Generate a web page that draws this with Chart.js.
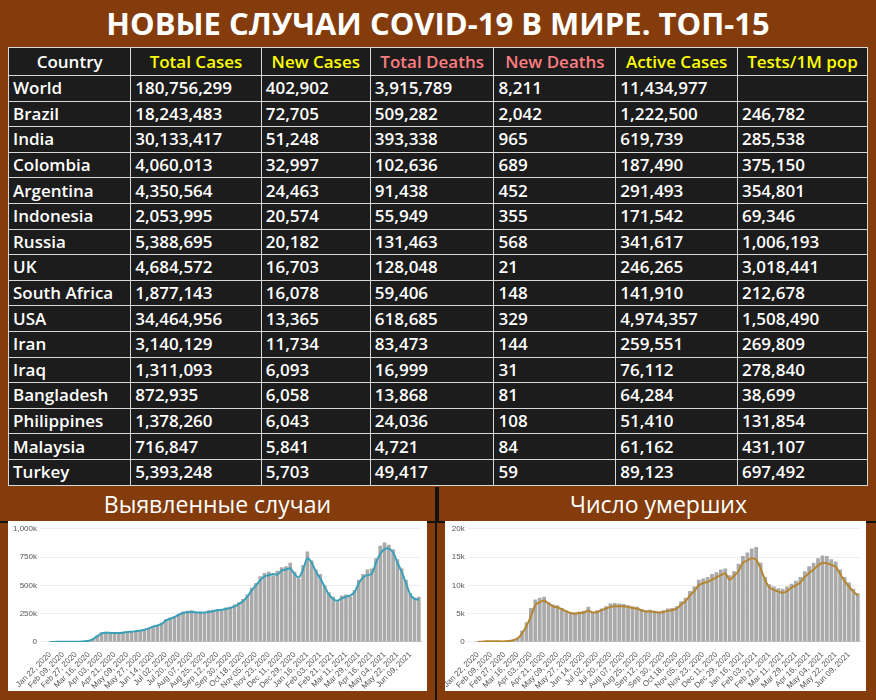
<!DOCTYPE html>
<html><head><meta charset="utf-8">
<script src="https://cdn.jsdelivr.net/npm/chart.js@4"></script>
<style>
body{margin:0;width:876px;height:700px;background:#843c0c;font-family:"Open Sans",sans-serif;overflow:hidden;position:relative}
#title{position:absolute;left:0;top:0;width:876px;height:46px;text-align:center;color:#fff;font-weight:bold;font-size:31px;line-height:46px}
table{position:absolute;left:8px;top:47px;width:860px;border-collapse:collapse;background:#1c1c1c}
td{border:1px solid #d8d8d8;color:#fff;font-size:17px;font-weight:600;height:24.6px;padding:0 4px;line-height:22px;white-space:nowrap}
tr.h td{text-align:center;height:27px}
.sub{position:absolute;top:487px;height:34px;color:#fff;font-size:23px;text-align:center;line-height:34px;border-bottom:2px solid #111}
.box{position:absolute;top:521px;height:170px;background:#fff}
</style></head><body>
<div id="title">НОВЫЕ СЛУЧАИ COVID-19 В МИРЕ. ТОП-15</div>
<table id="tbl"></table>
<div class="sub" style="left:0;width:435px">Выявленные случаи</div>
<div class="sub" style="left:437px;width:439px;border-left:2px solid #111">Число умерших</div>
<div style="position:absolute;left:435px;top:487px;width:2px;height:213px;background:#111"></div>
<div class="box" style="left:8px;width:419px"><canvas id="c1"></canvas></div>
<div class="box" style="left:445px;width:421px"><canvas id="c2"></canvas></div>
<script>
const headers=["Country","Total Cases","New Cases","Total Deaths","New Deaths","Active Cases","Tests/1M pop"];
const headerColors=["#ffffff","#ffff00","#ffff00","#ff7c80","#ff7c80","#ffff00","#ffff00"];
const countries=["World","Brazil","India","Colombia","Argentina","Indonesia","Russia","UK","South Africa","USA","Iran","Iraq","Bangladesh","Philippines","Malaysia","Turkey"];
const totalCases=["180,756,299","18,243,483","30,133,417","4,060,013","4,350,564","2,053,995","5,388,695","4,684,572","1,877,143","34,464,956","3,140,129","1,311,093","872,935","1,378,260","716,847","5,393,248"];
const newCases=["402,902","72,705","51,248","32,997","24,463","20,574","20,182","16,703","16,078","13,365","11,734","6,093","6,058","6,043","5,841","5,703"];
const totalDeaths=["3,915,789","509,282","393,338","102,636","91,438","55,949","131,463","128,048","59,406","618,685","83,473","16,999","13,868","24,036","4,721","49,417"];
const newDeaths=["8,211","2,042","965","689","452","355","568","21","148","329","144","31","81","108","84","59"];
const activeCases=["11,434,977","1,222,500","619,739","187,490","291,493","171,542","341,617","246,265","141,910","4,974,357","259,551","76,112","64,284","51,410","61,162","89,123"];
const testsPerM=["","246,782","285,538","375,150","354,801","69,346","1,006,193","3,018,441","212,678","1,508,490","269,809","278,840","38,699","131,854","431,107","697,492"];
const widths=[122,138,108,122,122,120,128];

const tickLabels=["Jan 22, 2020","Feb 09, 2020","Feb 27, 2020","Mar 16, 2020","Apr 03, 2020","Apr 21, 2020","May 09, 2020","May 27, 2020","Jun 14, 2020","Jul 02, 2020","Jul 20, 2020","Aug 07, 2020","Aug 25, 2020","Sep 12, 2020","Sep 30, 2020","Oct 18, 2020","Nov 05, 2020","Nov 23, 2020","Dec 11, 2020","Dec 29, 2020","Jan 16, 2021","Feb 03, 2021","Feb 21, 2021","Mar 11, 2021","Mar 29, 2021","Apr 16, 2021","May 04, 2021","May 22, 2021","Jun 09, 2021"];
const casesBars=[0,0,1,2,2,3,2,3,6,12,30,60,85,90,78,85,78,90,92,88,100,105,112,125,140,150,170,200,215,230,250,270,275,280,255,270,265,280,285,290,280,305,310,330,350,380,420,480,520,580,610,620,590,630,660,670,700,620,560,680,800,720,640,600,500,440,400,360,410,420,400,460,550,600,640,650,740,850,880,860,820,730,650,550,430,390,400];
const casesAvg=[0,0,1,2,2,2,2,2,5,10,25,50,75,82,80,80,80,82,88,90,95,100,108,120,135,145,160,190,205,220,240,255,262,265,262,258,260,265,272,280,285,292,300,315,335,360,400,455,500,545,580,590,600,595,630,640,650,600,570,640,740,700,620,560,490,420,380,365,385,400,410,440,520,570,590,600,700,780,820,825,790,700,620,520,420,380,375];
const deathsBars=[0,0.05,0.1,0.1,0.1,0.1,0.1,0.2,0.4,0.8,2,3.5,6,7.5,7.8,8,7,6.6,6.5,6,5.6,5.3,5.2,5.4,5.5,6.2,5.3,5.6,5.9,6.3,6.8,6.9,6.8,6.7,6.5,6.3,6.2,5.8,5.6,5.7,5.5,5.4,5.6,5.9,6,6.3,7.2,7.8,9,9.8,11,11.2,11.5,12,12.3,12.8,13,11.8,12.5,13.8,15.2,15.8,16.5,16.8,14,11.5,10.2,9.8,9.5,9.4,9.8,10.3,10.8,11.5,12.5,13.4,14,14.8,15.3,15.2,14.6,14.2,12.8,11.5,10.5,9.4,8.6];
const deathsAvg=[0,0.05,0.1,0.1,0.1,0.1,0.1,0.15,0.3,0.6,1.5,2.8,4.5,6.5,7.0,7.3,6.8,6.3,6.1,5.8,5.4,5.1,5.0,5.1,5.2,5.5,5.2,5.3,5.6,5.9,6.2,6.3,6.3,6.3,6.2,6.0,5.9,5.6,5.4,5.4,5.3,5.2,5.3,5.5,5.6,5.9,6.6,7.2,8.2,9.0,10.0,10.4,10.6,11.0,11.4,11.8,12.1,11.0,11.7,12.5,14.0,14.4,14.8,14.5,13.0,11.0,9.6,9.2,8.9,8.7,9.0,9.6,10.0,10.5,11.5,12.2,12.8,13.5,14.0,13.9,13.6,13.3,12.0,10.8,9.8,8.9,8.2];

const tbl=document.getElementById('tbl');
let html='<tr class="h">'+headers.map((h,i)=>`<td style="width:${widths[i]}px;color:${headerColors[i]}">${h}</td>`).join('')+'</tr>';
countries.forEach((c,r)=>{
  html+='<tr>'+[c,totalCases[r],newCases[r],totalDeaths[r],newDeaths[r],activeCases[r],testsPerM[r]].map(v=>`<td>${v}</td>`).join('')+'</tr>';
});
tbl.innerHTML=html;

const labels=casesAvg.map((_,i)=> i%3===0 ? tickLabels[i/3] : "");
function mk(id,bars,avg,max,step,col,fmt){
  new Chart(document.getElementById(id),{
    data:{labels,datasets:[
      {type:'line',data:avg,borderColor:col,borderWidth:2,pointRadius:0,tension:0.3,order:0},
      {type:'bar',data:bars,backgroundColor:'#aaaaaa',categoryPercentage:1,barPercentage:0.85,order:1}
    ]},
    options:{responsive:true,maintainAspectRatio:false,animation:false,
      layout:{padding:{left:2,right:6,top:4,bottom:0}},
      plugins:{legend:{display:false},tooltip:{enabled:false}},
      scales:{
        x:{grid:{display:false},border:{color:'#ccc'},ticks:{autoSkip:false,maxRotation:45,minRotation:45,font:{size:8},color:'#555',padding:0,
          callback:(v,i)=>labels[i]}},
        y:{min:0,max:max,grid:{color:'#eee'},border:{display:false},ticks:{stepSize:step,font:{size:8},color:'#555',callback:fmt}}
      }}
  });
}
mk('c1',casesBars,casesAvg,1000,250,'#3aa0b8',v=>v===0?'0':(v===1000?'1,000k':v+'k'));
mk('c2',deathsBars,deathsAvg,20,5,'#b5862f',v=>v===0?'0':v+'k');
</script>
</body></html>
